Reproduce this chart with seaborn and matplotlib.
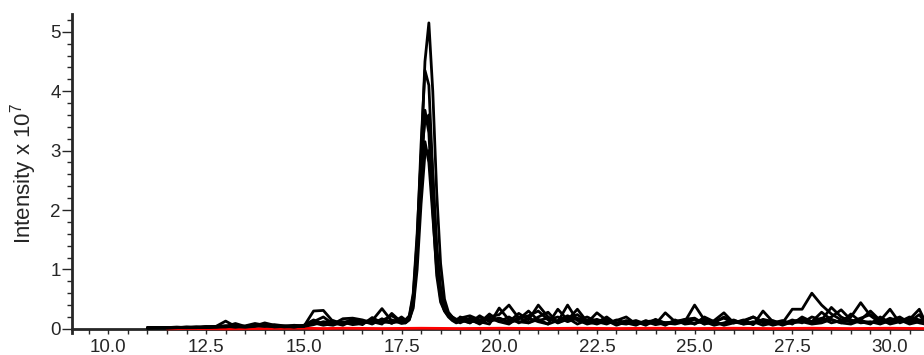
import pandas as pd
import matplotlib.pyplot as plt
import seaborn as sns
from matplotlib.ticker import MultipleLocator, FormatStrFormatter

# retention time grid (min), shared by the black traces
rt = [11.0, 11.25, 11.5, 11.75, 12.0, 12.25, 12.5, 12.75, 13.0, 13.25, 13.5, 13.75,
      14.0, 14.25, 14.5, 14.75, 15.0, 15.25, 15.5, 15.75, 16.0, 16.25, 16.5, 16.75,
      17.0, 17.25, 17.5,
      17.6, 17.7, 17.8, 17.9, 18.0, 18.1, 18.2, 18.3, 18.4, 18.5, 18.6, 18.7, 18.8, 18.9,
      19.0, 19.25, 19.5, 19.75, 20.0, 20.25, 20.5, 20.75, 21.0, 21.25, 21.5, 21.75,
      22.0, 22.25, 22.5, 22.75, 23.0, 23.25, 23.5, 23.75, 24.0, 24.25, 24.5, 24.75,
      25.0, 25.25, 25.5, 25.75, 26.0, 26.25, 26.5, 26.75, 27.0, 27.25, 27.5, 27.75,
      28.0, 28.25, 28.5, 28.75, 29.0, 29.25, 29.5, 29.75, 30.0, 30.25, 30.5, 30.75, 30.9]

# intensities (x 1e7) for each replicate
trace_a = [0.02, 0.02, 0.02, 0.02, 0.03, 0.02, 0.03, 0.04, 0.13, 0.04, 0.03, 0.05, 0.10, 0.06,
           0.04, 0.05, 0.04, 0.30, 0.31, 0.12, 0.10, 0.16, 0.12, 0.14, 0.34, 0.13, 0.16,
           0.14, 0.18, 0.45, 1.30, 2.90, 4.50, 5.15, 4.00, 2.30, 1.10, 0.50, 0.28, 0.20, 0.16,
           0.18, 0.22, 0.15, 0.20, 0.24, 0.40, 0.18, 0.22, 0.30, 0.15, 0.20, 0.12, 0.18, 0.10,
           0.27, 0.14, 0.10, 0.08, 0.12, 0.06, 0.15, 0.10, 0.08, 0.12, 0.40, 0.15, 0.10, 0.20,
           0.12, 0.08, 0.10, 0.12, 0.06, 0.10, 0.33, 0.33, 0.60, 0.40, 0.25, 0.15, 0.20, 0.44,
           0.22, 0.10, 0.18, 0.12, 0.20, 0.15, 0.10]
trace_b = [0.02, 0.02, 0.02, 0.03, 0.02, 0.03, 0.02, 0.03, 0.04, 0.09, 0.04, 0.07, 0.05, 0.04,
           0.05, 0.03, 0.05, 0.12, 0.20, 0.08, 0.17, 0.18, 0.15, 0.10, 0.14, 0.22, 0.12,
           0.12, 0.20, 0.55, 1.50, 3.10, 4.35, 4.10, 2.60, 1.40, 0.70, 0.40, 0.25, 0.18, 0.12,
           0.15, 0.10, 0.22, 0.12, 0.18, 0.12, 0.26, 0.15, 0.40, 0.20, 0.12, 0.40, 0.14, 0.20,
           0.12, 0.08, 0.15, 0.10, 0.06, 0.14, 0.08, 0.27, 0.12, 0.10, 0.16, 0.08, 0.14, 0.27,
           0.10, 0.15, 0.07, 0.30, 0.12, 0.08, 0.15, 0.10, 0.20, 0.15, 0.36, 0.20, 0.12, 0.15,
           0.30, 0.14, 0.33, 0.10, 0.16, 0.33, 0.12]
trace_c = [0.01, 0.02, 0.02, 0.02, 0.02, 0.02, 0.03, 0.04, 0.05, 0.03, 0.05, 0.09, 0.06, 0.03,
           0.04, 0.06, 0.05, 0.09, 0.10, 0.14, 0.08, 0.12, 0.07, 0.19, 0.10, 0.15, 0.09,
           0.10, 0.15, 0.40, 1.20, 2.50, 3.68, 3.30, 2.00, 0.90, 0.45, 0.30, 0.22, 0.15, 0.12,
           0.20, 0.14, 0.10, 0.25, 0.12, 0.20, 0.10, 0.18, 0.12, 0.08, 0.33, 0.15, 0.33, 0.12,
           0.08, 0.14, 0.06, 0.12, 0.10, 0.08, 0.12, 0.06, 0.15, 0.08, 0.10, 0.12, 0.06, 0.10,
           0.15, 0.08, 0.12, 0.06, 0.10, 0.14, 0.08, 0.20, 0.12, 0.28, 0.15, 0.10, 0.25, 0.12,
           0.08, 0.20, 0.10, 0.15, 0.08, 0.12, 0.18]
trace_d = [0.02, 0.01, 0.02, 0.02, 0.03, 0.03, 0.04, 0.03, 0.05, 0.04, 0.03, 0.04, 0.08, 0.05,
           0.03, 0.04, 0.06, 0.15, 0.08, 0.06, 0.12, 0.09, 0.13, 0.08, 0.17, 0.09, 0.20,
           0.15, 0.22, 0.60, 1.60, 2.90, 3.50, 3.60, 2.60, 1.30, 0.60, 0.35, 0.25, 0.20, 0.15,
           0.10, 0.18, 0.12, 0.08, 0.35, 0.15, 0.12, 0.10, 0.20, 0.28, 0.10, 0.18, 0.08, 0.15,
           0.10, 0.20, 0.08, 0.14, 0.10, 0.12, 0.07, 0.10, 0.12, 0.15, 0.08, 0.20, 0.12, 0.06,
           0.10, 0.12, 0.20, 0.10, 0.12, 0.06, 0.12, 0.15, 0.10, 0.14, 0.20, 0.32, 0.15, 0.10,
           0.12, 0.08, 0.14, 0.20, 0.10, 0.14, 0.08]
trace_e = [0.02, 0.02, 0.01, 0.02, 0.02, 0.02, 0.03, 0.03, 0.03, 0.05, 0.04, 0.05, 0.04, 0.07,
           0.05, 0.05, 0.04, 0.07, 0.12, 0.10, 0.06, 0.14, 0.10, 0.12, 0.08, 0.26, 0.11,
           0.12, 0.18, 0.50, 1.30, 2.40, 3.15, 2.80, 1.90, 1.00, 0.55, 0.32, 0.24, 0.18, 0.14,
           0.16, 0.10, 0.20, 0.14, 0.18, 0.10, 0.16, 0.30, 0.14, 0.18, 0.10, 0.16, 0.24, 0.12,
           0.16, 0.10, 0.14, 0.20, 0.08, 0.12, 0.14, 0.10, 0.12, 0.16, 0.18, 0.08, 0.12, 0.18,
           0.10, 0.14, 0.20, 0.12, 0.14, 0.08, 0.12, 0.16, 0.12, 0.18, 0.10, 0.14, 0.12, 0.18,
           0.24, 0.14, 0.10, 0.16, 0.12, 0.24, 0.10]
trace_f = [0.01, 0.02, 0.02, 0.02, 0.02, 0.03, 0.02, 0.04, 0.04, 0.03, 0.04, 0.06, 0.05, 0.04,
           0.04, 0.03, 0.05, 0.10, 0.06, 0.09, 0.11, 0.07, 0.09, 0.15, 0.12, 0.10, 0.13,
           0.10, 0.16, 0.35, 1.00, 2.10, 2.95, 3.00, 2.10, 1.10, 0.50, 0.30, 0.20, 0.14, 0.10,
           0.12, 0.16, 0.08, 0.18, 0.12, 0.08, 0.20, 0.10, 0.16, 0.08, 0.14, 0.22, 0.15, 0.08,
           0.12, 0.18, 0.08, 0.10, 0.14, 0.08, 0.16, 0.08, 0.10, 0.14, 0.08, 0.16, 0.10, 0.08,
           0.14, 0.10, 0.08, 0.16, 0.12, 0.08, 0.10, 0.12, 0.08, 0.10, 0.16, 0.10, 0.08, 0.14,
           0.10, 0.16, 0.08, 0.12, 0.16, 0.10, 0.08]

# blank (red) trace
rt_blank = [11.5, 12.0, 13.0, 14.0, 15.0, 15.5, 16.0, 17.0, 18.0, 19.0, 20.0, 21.0,
            22.0, 23.0, 24.0, 25.0, 26.0, 27.0, 28.0, 29.0, 30.0, 30.9]
blank = [0.0, 0.005, 0.0, 0.005, 0.01, 0.005, 0.01, 0.005, 0.01, 0.005, 0.01, 0.005,
         0.01, 0.005, 0.01, 0.005, 0.01, 0.005, 0.01, 0.005, 0.01, 0.005]

traces = {'a': trace_a, 'b': trace_b, 'c': trace_c, 'd': trace_d, 'e': trace_e, 'f': trace_f}
df = pd.concat([pd.DataFrame({'rt': rt, 'intensity': v, 'run': k}) for k, v in traces.items()])
df_blank = pd.DataFrame({'rt': rt_blank, 'intensity': blank})

sns.set_style('ticks')
plt.rcParams['font.family'] = ['Liberation Sans', 'DejaVu Sans']
plt.rcParams['mathtext.default'] = 'regular'

fig = plt.figure(figsize=(9.24, 3.55), dpi=100)
ax = fig.add_axes([0.078, 0.062, 0.922, 0.8986])

sns.lineplot(data=df_blank, x='rt', y='intensity', color='red', lw=2,
             ax=ax, zorder=2.6)
sns.lineplot(data=df, x='rt', y='intensity', units='run', estimator=None,
             color='black', lw=2, ax=ax, zorder=3)

ax.set_xlim(9.07, 30.87)
ax.set_ylim(-0.07, 5.3)
sns.despine(ax=ax)
ax.spines['bottom'].set_position(('data', 0))
ax.spines['left'].set_linewidth(2)
ax.spines['bottom'].set_linewidth(2)

ax.xaxis.set_major_locator(MultipleLocator(2.5))
ax.xaxis.set_minor_locator(MultipleLocator(0.5))
ax.xaxis.set_major_formatter(FormatStrFormatter('%.1f'))
ax.yaxis.set_major_locator(MultipleLocator(1))
ax.yaxis.set_minor_locator(MultipleLocator(0.2))
ax.tick_params(axis='x', which='both', direction='out', length=3.5, width=1,
               labelsize=13.5, pad=4)
ax.tick_params(axis='y', which='major', direction='out', length=7, width=1,
               labelsize=13.5, pad=1)
ax.tick_params(axis='y', which='minor', direction='out', length=3.5, width=1)
ax.yaxis.get_major_ticks()[0].label1.set_verticalalignment('top')

ax.set_xlabel('')
ax.set_ylabel('Intensity x 10$^7$', fontsize=16, labelpad=8)

fig.savefig('out.png', dpi=100)
